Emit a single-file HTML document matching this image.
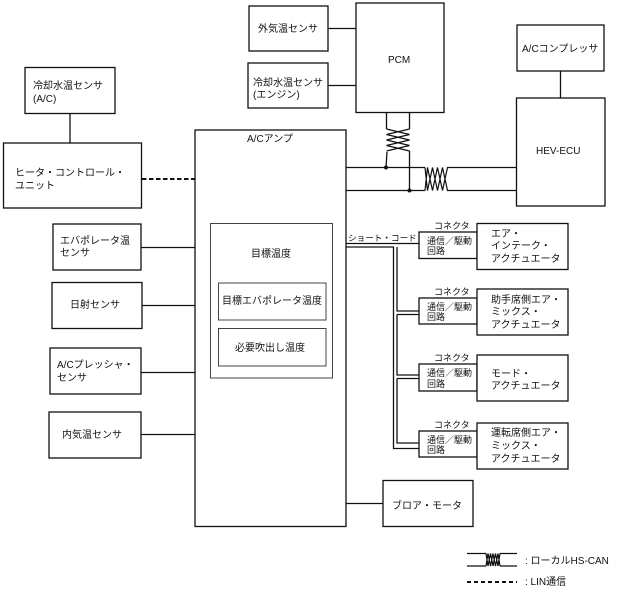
<!DOCTYPE html>
<html><head><meta charset="utf-8"><style>
html,body{margin:0;padding:0;background:#fff}
svg{display:block}
text{font-family:"Liberation Sans","Noto Sans CJK JP",sans-serif;font-size:10px;fill:#111}
rect{fill:#fff;stroke:#111;stroke-width:1.3}
.in{stroke:#444;stroke-width:1}
path,line,polyline{fill:none;stroke:#111;stroke-width:1.3}
.tw{stroke-width:1.2}
</style></head><body>
<svg width="618" height="591" viewBox="0 0 618 591" xmlns="http://www.w3.org/2000/svg">
<!-- connectors -->
<path d="M328 28.5H356M328 85.5H356M560.5 71V98M70 114V143M141 247.5H195M142 305.5H195M141 372.5H195M141 434.5H195M346 503.5H383"/>
<path d="M142 179H195" stroke-dasharray="4.5 2.5" style="stroke-width:2"/>
<path d="M346 167.5H425M449 167.5H517M346 190.5H425M449 190.5H517"/>
<path d="M386.5 112V129M409.5 112V129M387 152L386 167.5M409.5 151V190.5"/>
<path class="tw" d="M386.5 129L409.5 134.5L386.5 140L409.5 145.5L386.5 151M409.5 129L386.5 134.5L409.5 140L386.5 145.5L409.5 151"/>
<path class="tw" d="M425 167.5L427.5 190.5L432.5 167.5L437.5 190.5L442.5 167.5L447.5 190.5L449 190.5M425 190.5L427.5 167.5L432.5 190.5L437.5 167.5L442.5 190.5L447.5 167.5L449 167.5"/>
<circle cx="386" cy="167.5" r="2" fill="#111"/>
<circle cx="409.5" cy="190.5" r="2" fill="#111"/>
<!-- short code lines -->
<path d="M346 243.5H419M346 247H393.5V448.5H419M397 247V311H419M397 314.5H419M397 314.5V375H419M397 378.5H419M397 378.5V443H419"/>
<!-- boxes -->
<rect x="249" y="6" width="79" height="45"/>
<rect x="356" y="3" width="88" height="109.5"/>
<rect x="248" y="63" width="80" height="45"/>
<rect x="517" y="25" width="87" height="46"/>
<rect x="516.5" y="98" width="88.5" height="108"/>
<rect x="25" y="67.5" width="90" height="46"/>
<rect x="3.5" y="143" width="138" height="65"/>
<rect x="195" y="130" width="151" height="396.5"/>
<rect class="in" x="210.5" y="223.5" width="122" height="154.5"/>
<rect class="in" x="218.5" y="283" width="107.5" height="37"/>
<rect class="in" x="218.5" y="328.5" width="107.5" height="37.5"/>
<rect x="53" y="224" width="88" height="46"/>
<rect x="52" y="282.5" width="90" height="46"/>
<rect x="50" y="348" width="91" height="46"/>
<rect x="49" y="412" width="92" height="46"/>
<rect x="383" y="480.5" width="90" height="46"/>
<rect x="419" y="232" width="58" height="26.5"/>
<rect x="419" y="298" width="58" height="26"/>
<rect x="419" y="364" width="58" height="27"/>
<rect x="419" y="431" width="58" height="26"/>
<rect x="477" y="223.5" width="91" height="46"/>
<rect x="477" y="289" width="91" height="46"/>
<rect x="477" y="355" width="91" height="46"/>
<rect x="477" y="423" width="91" height="46"/>
<!-- labels -->
<text x="258" y="32">外気温センサ</text>
<text x="388" y="63">PCM</text>
<text x="253" y="86">冷却水温センサ</text>
<text x="253" y="98">(エンジン)</text>
<text x="522" y="52">A/Cコンプレッサ</text>
<text x="536" y="154">HEV-ECU</text>
<text x="33" y="89">冷却水温センサ</text>
<text x="33" y="102">(A/C)</text>
<text x="15" y="176">ヒータ・コントロール・</text>
<text x="15" y="189">ユニット</text>
<text x="247" y="142">A/Cアンプ</text>
<text x="251" y="257">目標温度</text>
<text x="222" y="304">目標エバポレータ温度</text>
<text x="235" y="351">必要吹出し温度</text>
<text x="60" y="244">エバポレータ温</text>
<text x="60" y="256">センサ</text>
<text x="70" y="308">日射センサ</text>
<text x="57" y="368">A/Cプレッシャ・</text>
<text x="57" y="381">センサ</text>
<text x="62" y="438">内気温センサ</text>
<text x="392" y="509">ブロア・モータ</text>
<text x="348" y="241" style="font-size:8.6px">ショート・コード</text>
<g>
<text x="434" y="229" style="font-size:9px">コネクタ</text>
<text x="434" y="295" style="font-size:9px">コネクタ</text>
<text x="434" y="361" style="font-size:9px">コネクタ</text>
<text x="434" y="428" style="font-size:9px">コネクタ</text>
<text x="427" y="244" style="font-size:9px">通信／駆動</text>
<text x="427" y="254" style="font-size:9px">回路</text>
<text x="427" y="310" style="font-size:9px">通信／駆動</text>
<text x="427" y="320" style="font-size:9px">回路</text>
<text x="427" y="376" style="font-size:9px">通信／駆動</text>
<text x="427" y="387" style="font-size:9px">回路</text>
<text x="427" y="443" style="font-size:9px">通信／駆動</text>
<text x="427" y="453" style="font-size:9px">回路</text>
</g>
<text x="491" y="237">エア・</text>
<text x="491" y="249">インテーク・</text>
<text x="491" y="262">アクチュエータ</text>
<text x="491" y="303">助手席側エア・</text>
<text x="491" y="315">ミックス・</text>
<text x="491" y="328">アクチュエータ</text>
<text x="491" y="377">モード・</text>
<text x="491" y="389">アクチュエータ</text>
<text x="491" y="436">運転席側エア・</text>
<text x="491" y="449">ミックス・</text>
<text x="491" y="462">アクチュエータ</text>
<!-- legend -->
<path d="M467 553.5H486M500 553.5H517M467 566H486M500 566H517"/>
<path class="tw" d="M486 553.5L488 566L490.5 553.5L493 566L495.5 553.5L498 566L500 553.5M486 566L488 553.5L490.5 566L493 553.5L495.5 566L498 553.5L500 566"/>
<path d="M467 582H517" stroke-dasharray="4 3" style="stroke-width:2"/>
<text x="525" y="564">: ローカルHS-CAN</text>
<text x="525" y="585">: LIN通信</text>
</svg>
</body></html>
